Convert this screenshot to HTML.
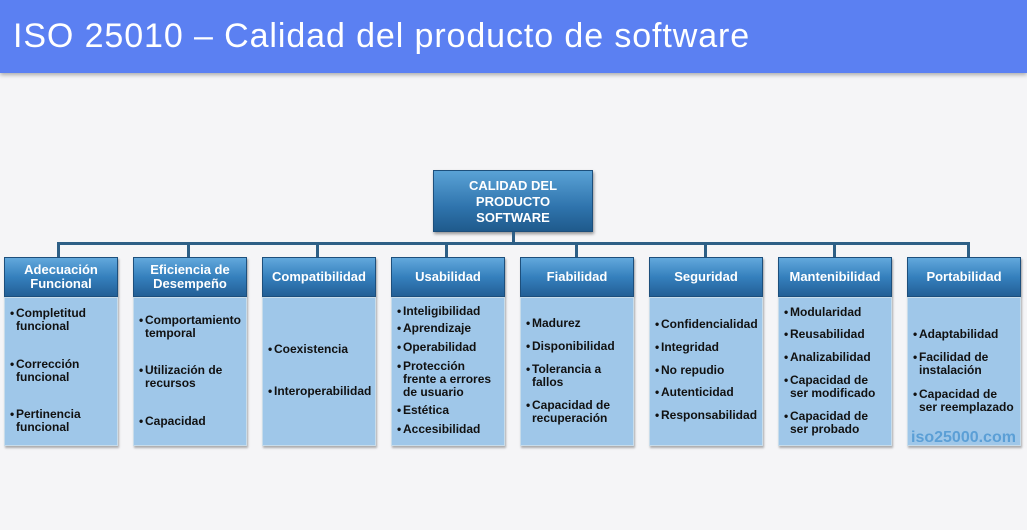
<!DOCTYPE html>
<html><head><meta charset="utf-8"><style>
*{margin:0;padding:0;box-sizing:border-box}
body{width:1027px;height:530px;background:#f5f5f7;position:relative;overflow:hidden;font-family:"Liberation Sans",sans-serif}
.bar{position:absolute;left:0;top:0;width:1027px;height:73px;background:#5b80f2;box-shadow:0 2px 4px rgba(0,0,0,.3)}
.bar span{position:absolute;left:13px;top:17px;color:#fff;font-size:34px;letter-spacing:0.9px;white-space:nowrap}
.top{position:absolute;left:433px;top:170px;width:160px;height:62px;background:linear-gradient(#5aa2d6,#2f74ad 60%,#1f5a8c);border:1px solid #1d4f7c;color:#fff;font-weight:bold;font-size:13px;text-align:center;line-height:16px;padding-top:7px;box-shadow:1px 2px 3px rgba(0,0,0,.4)}
.ln{position:absolute;background:#2e5f86}
.hd{position:absolute;top:257px;width:114px;height:40px;background:linear-gradient(#62a8dc,#3580bd 50%,#235f96);border:1px solid #1d4f7c;color:#fff;font-weight:bold;font-size:13px;text-align:center;line-height:14px;display:flex;align-items:center;justify-content:center;box-shadow:1px 2px 2px rgba(0,0,0,.35)}
.bd{position:absolute;top:297px;width:114px;height:149px;background:#9fc7e9;border:1px solid #c8dcea;box-shadow:1px 2px 2px rgba(0,0,0,.3);font-weight:bold;font-size:12px;color:#111;line-height:13px}
.bd p{position:absolute;left:5px;padding-left:6px;white-space:nowrap}
.bd p:before{content:"•";position:absolute;left:0}
.wm{position:absolute;left:911px;top:429px;font-size:16px;font-weight:bold;color:#5b9fd6}
</style></head><body>
<div class="bar"><span>ISO 25010 – Calidad del producto de software</span></div>
<div class="top">CALIDAD DEL<br>PRODUCTO<br>SOFTWARE</div>
<div class="ln" style="left:512px;top:232px;width:3px;height:12px"></div>
<div class="ln" style="left:57px;top:242px;width:913px;height:3px"></div>
<div class="ln" style="left:57px;top:242px;width:3px;height:15px"></div>
<div class="ln" style="left:187px;top:242px;width:3px;height:15px"></div>
<div class="ln" style="left:316px;top:242px;width:3px;height:15px"></div>
<div class="ln" style="left:445px;top:242px;width:3px;height:15px"></div>
<div class="ln" style="left:575px;top:242px;width:3px;height:15px"></div>
<div class="ln" style="left:704px;top:242px;width:3px;height:15px"></div>
<div class="ln" style="left:833px;top:242px;width:3px;height:15px"></div>
<div class="ln" style="left:967px;top:242px;width:3px;height:15px"></div>

<div class="hd" style="left:4px">Adecuación<br>Funcional</div>
<div class="bd" style="left:4px"><p style="top:9px">Completitud<br>funcional</p><p style="top:60px">Corrección<br>funcional</p><p style="top:110px">Pertinencia<br>funcional</p></div>

<div class="hd" style="left:133px">Eficiencia de<br>Desempeño</div>
<div class="bd" style="left:133px"><p style="top:16px">Comportamiento<br>temporal</p><p style="top:66px">Utilización de<br>recursos</p><p style="top:117px">Capacidad</p></div>

<div class="hd" style="left:262px">Compatibilidad</div>
<div class="bd" style="left:262px"><p style="top:45px">Coexistencia</p><p style="top:87px">Interoperabilidad</p></div>

<div class="hd" style="left:391px">Usabilidad</div>
<div class="bd" style="left:391px"><p style="top:7px">Inteligibilidad</p><p style="top:24px">Aprendizaje</p><p style="top:43px">Operabilidad</p><p style="top:62px">Protección<br>frente a errores<br>de usuario</p><p style="top:106px">Estética</p><p style="top:125px">Accesibilidad</p></div>

<div class="hd" style="left:520px">Fiabilidad</div>
<div class="bd" style="left:520px"><p style="top:19px">Madurez</p><p style="top:42px">Disponibilidad</p><p style="top:65px">Tolerancia a<br>fallos</p><p style="top:101px">Capacidad de<br>recuperación</p></div>

<div class="hd" style="left:649px">Seguridad</div>
<div class="bd" style="left:649px"><p style="top:20px">Confidencialidad</p><p style="top:43px">Integridad</p><p style="top:66px">No repudio</p><p style="top:88px">Autenticidad</p><p style="top:111px">Responsabilidad</p></div>

<div class="hd" style="left:778px">Mantenibilidad</div>
<div class="bd" style="left:778px"><p style="top:8px">Modularidad</p><p style="top:30px">Reusabilidad</p><p style="top:53px">Analizabilidad</p><p style="top:76px">Capacidad de<br>ser modificado</p><p style="top:112px">Capacidad de<br>ser probado</p></div>

<div class="hd" style="left:907px">Portabilidad</div>
<div class="bd" style="left:907px"><p style="top:30px">Adaptabilidad</p><p style="top:53px">Facilidad de<br>instalación</p><p style="top:90px">Capacidad de<br>ser reemplazado</p></div>
<div class="wm">iso25000.com</div>
</body></html>
